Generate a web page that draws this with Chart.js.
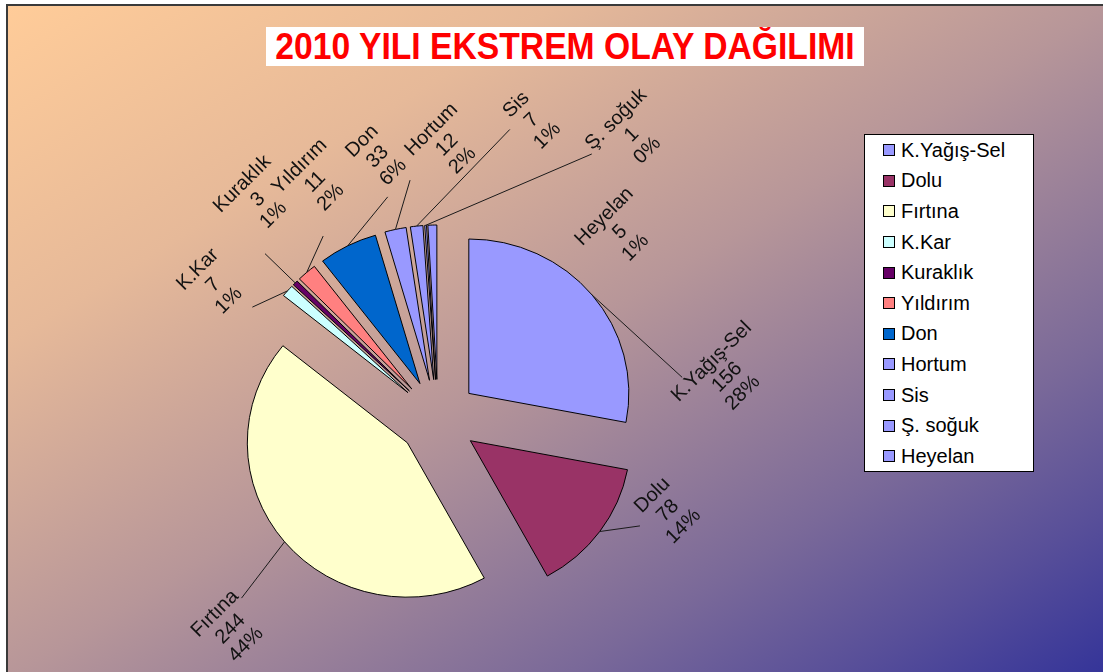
<!DOCTYPE html>
<html>
<head>
<meta charset="utf-8">
<script src="https://cdn.jsdelivr.net/npm/chart.js@4.4.0/dist/chart.umd.min.js"></script>
<style>
  html, body { margin: 0; padding: 0; width: 1103px; height: 672px; overflow: hidden; background: #fff; }
  body { font-family: "Liberation Sans", Arial, sans-serif; position: relative; }
  #frame {
    position: absolute; left: 6px; top: 4px; width: 1100px; height: 672px;
    border-left: 2px solid #3a3a3a; border-top: 2px solid #3a3a3a;
    background: linear-gradient(to bottom right, #ffcc99 0%, #e6b999 25%, #b79699 50%, #7a6999 75%, #584f99 87.5%, #333399 100%);
  }
  #pie { position: absolute; left: 0; top: 0; }
  #title {
    position: absolute; left: 266px; top: 27px; width: 598px; height: 39px;
    background: #fff; overflow: hidden;
  }
  #title span {
    position: absolute; left: 50%; top: 0;
    font-weight: bold; font-size: 37px; line-height: 40px;
    color: #ff0000; transform: translateX(-50%) scaleX(0.91); white-space: nowrap;
  }
  #legend {
    position: absolute; left: 864px; top: 134px; width: 168px; height: 336px;
    background: #fff; border: 1px solid #000;
  }
  #legend .item { height: 30.6px; display: flex; align-items: center; font-size: 20px; color: #000; }
  #legend .sw { width: 10px; height: 10px; border: 1px solid #000; margin: 0 6px 0 18px; }
</style>
</head>
<body>
<div id="frame"></div>
<canvas id="pie" width="1103" height="672"></canvas>
<div id="title"><span>2010 YILI EKSTREM OLAY DAĞILIMI</span></div>
<div id="legend"></div>
<script>
const categories = ["K.Yağış-Sel", "Dolu", "Fırtına", "K.Kar", "Kuraklık", "Yıldırım", "Don", "Hortum", "Sis", "Ş. soğuk", "Heyelan"];
const counts = [156, 78, 244, 7, 3, 11, 33, 12, 7, 1, 5];
const sliceColors = ["#9999FF", "#993366", "#FFFFCC", "#CCFFFF", "#660066", "#FF8080", "#0066CC", "#9999FF", "#9999FF", "#9999FF", "#9999FF"];

// label placement: angle clockwise from 12 o'clock and distance from the pie centre,
// plus where the leader line stops relative to the label (null = no leader)
const labelSpots = [
  { angle: 82, dist: 292, end: [-45, 0] },
  { angle: 112, dist: 248, end: [-28, 15] },
  { angle: 224.5, dist: 296, end: [11, -31] },
  { angle: 300.6, dist: 261, end: [39, 22] },
  { angle: 320.5, dist: 283, end: [7, 54] },
  { angle: 332.5, dist: 266, end: [8, 54] },
  { angle: 347, dist: 268, end: [10, 40] },
  { angle: 1.9, dist: 273, end: [-37, 35] },
  { angle: 17.5, dist: 312, end: [-22, 9] },
  { angle: 34.4, dist: 343, end: [-40, 19] },
  { angle: 44.4, dist: 260, end: null },
];

const EXPLODE = 40;
const SQUASH = 0.965; // the original pie is a touch flatter than a circle
const total = counts.reduce((a, b) => a + b, 0);

const legend = document.getElementById("legend");
categories.forEach((name, i) => {
  const row = document.createElement("div");
  row.className = "item";
  const sw = document.createElement("span");
  sw.className = "sw";
  sw.style.background = sliceColors[i];
  row.appendChild(sw);
  row.appendChild(document.createTextNode(name));
  legend.appendChild(row);
});

// pull every slice out along its bisector
const explodePlugin = {
  id: "explode",
  beforeDatasetsDraw(chart) {
    chart.getDatasetMeta(0).data.forEach((arc) => {
      if (arc._exploded) return;
      arc._exploded = true;
      const baseDraw = arc.draw;
      arc.draw = function (ctx, area) {
        const mid = (this.startAngle + this.endAngle) / 2;
        ctx.save();
        ctx.translate(this.x, this.y);
        ctx.scale(1, SQUASH);
        ctx.translate(-this.x, -this.y);
        ctx.translate(Math.cos(mid) * EXPLODE, Math.sin(mid) * EXPLODE);
        baseDraw.call(this, ctx, area);
        ctx.restore();
      };
    });
  },
};

const labelPlugin = {
  id: "sliceLabels",
  afterDatasetsDraw(chart) {
    const ctx = chart.ctx;
    chart.getDatasetMeta(0).data.forEach((arc, i) => {
      const { x, y, startAngle, endAngle, outerRadius } = arc.getProps(["x", "y", "startAngle", "endAngle", "outerRadius"], true);
      const mid = (startAngle + endAngle) / 2;
      const spot = labelSpots[i];
      const a = ((spot.angle - 90) * Math.PI) / 180;
      const lx = x + Math.cos(a) * spot.dist;
      const ly = y + Math.sin(a) * spot.dist;

      if (spot.end) {
        const sx = x + Math.cos(mid) * (EXPLODE + outerRadius);
        const sy = y + Math.sin(mid) * (EXPLODE + outerRadius) * SQUASH;
        ctx.save();
        ctx.strokeStyle = "#1a1a1a";
        ctx.lineWidth = 1;
        ctx.beginPath();
        ctx.moveTo(sx, sy);
        ctx.lineTo(lx + spot.end[0], ly + spot.end[1]);
        ctx.stroke();
        ctx.restore();
      }

      const pct = Math.round((counts[i] / total) * 100);
      const lines = [categories[i], String(counts[i]), pct + "%"];
      ctx.save();
      ctx.translate(lx, ly);
      ctx.rotate(-Math.PI / 4);
      ctx.font = '20px "Liberation Sans", Arial, sans-serif';
      ctx.fillStyle = "#111";
      ctx.textAlign = "center";
      ctx.textBaseline = "middle";
      lines.forEach((t, k) => ctx.fillText(t, 0, (k - 1) * 22));
      ctx.restore();
    });
  },
};

new Chart(document.getElementById("pie"), {
  type: "pie",
  data: {
    labels: categories,
    datasets: [
      {
        data: counts,
        backgroundColor: sliceColors,
        borderColor: "#000",
        borderWidth: 1,
        radius: 160,
      },
    ],
  },
  options: {
    responsive: false,
    devicePixelRatio: 1,
    animation: false,
    events: [],
    layout: { padding: { left: 208, right: 435, top: 170, bottom: 6 } },
    plugins: {
      legend: { display: false },
      tooltip: { enabled: false },
    },
  },
  plugins: [explodePlugin, labelPlugin],
});
</script>
</body>
</html>
